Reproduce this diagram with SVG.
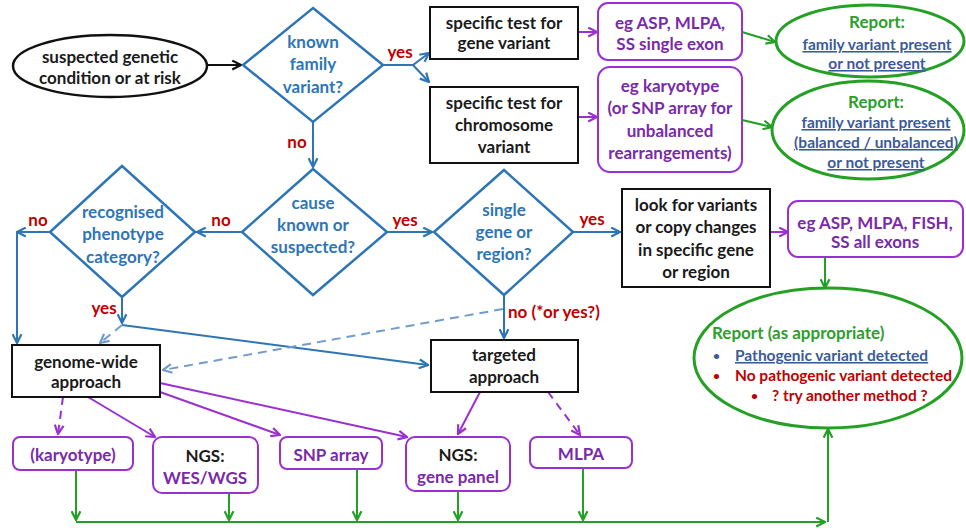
<svg xmlns="http://www.w3.org/2000/svg" width="966" height="530" viewBox="0 0 966 530">
<style>
text{font-family:Lato,"Liberation Sans",sans-serif;font-weight:bold;font-size:17px;text-anchor:middle}
.k{fill:#1a1a1a}.b{fill:#2e75b6}.r{fill:#c00000}.p{fill:#7a2aa8}.g{fill:#2e9e2e}.u{fill:#3b5a98;text-decoration:underline}
.s{font-size:15.5px}
.st{text-anchor:start}
.box{fill:#fff;stroke:#111;stroke-width:2}
.dia{fill:#fff;stroke:#2e75b6;stroke-width:2.5}
.pb{fill:#fff;stroke:#9b30d0;stroke-width:2}
.ge{fill:#fff;stroke:#24a024;stroke-width:3}
.cb{fill:none;stroke:#2e75b6;stroke-width:2}
.ck{fill:none;stroke:#111;stroke-width:2}
.cd{fill:none;stroke:#6f9ccc;stroke-width:2;stroke-dasharray:9 6}
.cp{fill:none;stroke:#9b30d0;stroke-width:2}
.cpd{fill:none;stroke:#9b30d0;stroke-width:2;stroke-dasharray:8 6}
.cg{fill:none;stroke:#24a024;stroke-width:2}
</style>
<defs>
<marker id="ak" viewBox="0 0 10 10" refX="9" refY="5" markerWidth="11" markerHeight="11" markerUnits="userSpaceOnUse" orient="auto"><path d="M1,1 L9,5 L1,9" fill="none" stroke="#111" stroke-width="2"/></marker>
<marker id="ab" viewBox="0 0 10 10" refX="9" refY="5" markerWidth="11" markerHeight="11" markerUnits="userSpaceOnUse" orient="auto"><path d="M1,1 L9,5 L1,9" fill="none" stroke="#2e75b6" stroke-width="2"/></marker>
<marker id="ad" viewBox="0 0 10 10" refX="9" refY="5" markerWidth="11" markerHeight="11" markerUnits="userSpaceOnUse" orient="auto"><path d="M1,1 L9,5 L1,9" fill="none" stroke="#6f9ccc" stroke-width="2"/></marker>
<marker id="ap" viewBox="0 0 10 10" refX="9" refY="5" markerWidth="11" markerHeight="11" markerUnits="userSpaceOnUse" orient="auto"><path d="M1,1 L9,5 L1,9" fill="none" stroke="#9b30d0" stroke-width="2"/></marker>
<marker id="ag" viewBox="0 0 10 10" refX="9" refY="5" markerWidth="11" markerHeight="11" markerUnits="userSpaceOnUse" orient="auto"><path d="M1,1 L9,5 L1,9" fill="none" stroke="#24a024" stroke-width="2"/></marker>
</defs>

<g id="connectors">
<path class="ck" d="M207,65 L241,65" marker-end="url(#ak)"/>
<path class="cb" d="M383,65 L413,65 L429,53" marker-end="url(#ab)"/>
<path class="cb" d="M413,65 L429,82" marker-end="url(#ab)"/>
<path class="cb" d="M313,122 L313,167" marker-end="url(#ab)"/>
<path class="cb" d="M242,232 L197,232" marker-end="url(#ab)"/>
<path class="cb" d="M50,232 L17,232" marker-end="url(#ab)"/>
<path class="cb" d="M17,232 L17,343" marker-end="url(#ab)"/>
<path class="cb" d="M122,297 L122,323" marker-end="url(#ab)"/>
<path class="cb" d="M122,325 L428,365" marker-end="url(#ab)"/>
<path class="cd" d="M122,325 L100,343" marker-end="url(#ad)"/>
<path class="cb" d="M387,232 L432,232" marker-end="url(#ab)"/>
<path class="cb" d="M573,232 L620,232" marker-end="url(#ab)"/>
<path class="cb" d="M504,295 L504,338" marker-end="url(#ab)"/>
<path class="cd" d="M503,309 L163,370" marker-end="url(#ad)"/>
<path class="cp" d="M578,32 L597,32" marker-end="url(#ap)"/>
<path class="cp" d="M578,117 L597,117" marker-end="url(#ap)"/>
<path class="cg" d="M742,32 L775,42" marker-end="url(#ag)"/>
<path class="cg" d="M742,120 L772,127" marker-end="url(#ag)"/>
<path class="cp" d="M770,232 L788,232" marker-end="url(#ap)"/>
<path class="cg" d="M825,257 L825,288" marker-end="url(#ag)"/>
<path class="cpd" d="M63,397 L58,434" marker-end="url(#ap)"/>
<path class="cp" d="M88,397 L155,437" marker-end="url(#ap)"/>
<path class="cp" d="M160,392 L280,435" marker-end="url(#ap)"/>
<path class="cp" d="M160,383 L407,437" marker-end="url(#ap)"/>
<path class="cp" d="M480,392 L458,434" marker-end="url(#ap)"/>
<path class="cpd" d="M548,392 L580,435" marker-end="url(#ap)"/>
<path class="cg" d="M76,470 L76,520" marker-end="url(#ag)"/>
<path class="cg" d="M229,493 L229,520" marker-end="url(#ag)"/>
<path class="cg" d="M357,469 L357,520" marker-end="url(#ag)"/>
<path class="cg" d="M458,491 L458,520" marker-end="url(#ag)"/>
<path class="cg" d="M583,468 L583,520" marker-end="url(#ag)"/>
<path class="cg" d="M76,522 L825,522" marker-end="url(#ag)"/>
<path class="cg" d="M828,522 L828,429" marker-end="url(#ag)"/>
</g>

<g id="labels">
<text class="r" x="400" y="58">yes</text>
<text class="r" x="297" y="148">no</text>
<text class="r" x="221" y="226">no</text>
<text class="r" x="38" y="226">no</text>
<text class="r" x="405" y="226">yes</text>
<text class="r" x="592" y="225">yes</text>
<text class="r" x="104" y="314">yes</text>
<text class="r st" x="508" y="318">no (*or yes?)</text>
</g>

<g id="start"><ellipse cx="110" cy="66" rx="97" ry="31" fill="#fff" stroke="#111" stroke-width="2.5"/>
<text class="k" x="110" y="63">suspected genetic</text><text class="k" x="110" y="84">condition or at risk</text></g>

<g id="known-family"><polygon class="dia" points="313,8 383,65 313,122 243,65"/>
<text class="b" x="313" y="48">known</text><text class="b" x="313" y="70">family</text><text class="b" x="313" y="93">variant?</text></g>

<g id="test-gene"><rect class="box" x="430" y="7" width="148" height="52"/>
<text class="k" x="504" y="29">specific test for</text><text class="k" x="504" y="49">gene variant</text></g>

<g id="test-chrom"><rect class="box" x="430" y="87" width="148" height="76"/>
<text class="k" x="504" y="109">specific test for</text><text class="k" x="504" y="131">chromosome</text><text class="k" x="504" y="153">variant</text></g>

<g id="eg-asp"><rect class="pb" x="598" y="3" width="144" height="57" rx="10"/>
<text class="p" x="670" y="29">eg ASP, MLPA,</text><text class="p" x="670" y="50">SS single exon</text></g>

<g id="eg-karyo"><rect class="pb" x="598" y="67" width="144" height="105" rx="12"/>
<text class="p" x="670" y="92">eg karyotype</text><text class="p" x="670" y="114">(or SNP array for</text><text class="p" x="670" y="137">unbalanced</text><text class="p" x="670" y="159">rearrangements)</text></g>

<g id="report1"><ellipse class="ge" cx="870" cy="41" rx="94" ry="36"/>
<text class="g" x="877" y="28">Report:</text><text class="u s" x="877" y="50">family variant present</text><text class="u s" x="877" y="69">or not present</text></g>

<g id="report2"><ellipse class="ge" cx="868" cy="130" rx="96" ry="49"/>
<text class="g" x="876" y="108">Report:</text><text class="u s" x="876" y="128">family variant present</text><text class="u s" x="876" y="148">(balanced / unbalanced)</text><text class="u s" x="876" y="168">or not present</text></g>

<g id="cause"><polygon class="dia" points="313,169 387,232 313,295 242,232"/>
<text class="b" x="313" y="209">cause</text><text class="b" x="313" y="231">known or</text><text class="b" x="313" y="253">suspected?</text></g>

<g id="phenotype"><polygon class="dia" points="122,166 195,232 122,297 50,232"/>
<text class="b" x="123" y="218">recognised</text><text class="b" x="123" y="240">phenotype</text><text class="b" x="123" y="263">category?</text></g>

<g id="single-gene"><polygon class="dia" points="504,170 573,232 504,295 434,232"/>
<text class="b" x="504" y="216">single</text><text class="b" x="504" y="238">gene or</text><text class="b" x="504" y="260">region?</text></g>

<g id="look-for"><rect class="box" x="622" y="189" width="148" height="98"/>
<text class="k" x="696" y="211">look for variants</text><text class="k" x="696" y="233">or copy  changes</text><text class="k" x="696" y="256">in specific gene</text><text class="k" x="696" y="278">or region</text></g>

<g id="eg-fish"><rect class="pb" x="788" y="201" width="175" height="56" rx="10"/>
<text class="p" x="875" y="229">eg ASP, MLPA, FISH,</text><text class="p" x="875" y="248">SS all exons</text></g>

<g id="report3"><ellipse class="ge" cx="828" cy="358" rx="134" ry="70"/>
<text class="g st" x="712" y="339">Report (as appropriate)</text>
<text class="s st" x="713" y="360" style="fill:#3b5a98;font-size:12px">•</text><text class="u s st" x="735" y="361">Pathogenic variant detected</text>
<text class="r st" x="713" y="380" style="font-size:12px">•</text><text class="r s st" x="735" y="381">No pathogenic variant detected</text>
<text class="r st" x="751" y="400" style="font-size:12px">•</text><text class="r s st" x="772" y="401">? try another method ?</text></g>

<g id="genome-wide"><rect class="box" x="12" y="345" width="148" height="52"/>
<text class="k" x="86" y="368">genome-wide</text><text class="k" x="86" y="388">approach</text></g>

<g id="targeted"><rect class="box" x="431" y="340" width="147" height="52"/>
<text class="k" x="504" y="361">targeted</text><text class="k" x="504" y="383">approach</text></g>

<g id="karyotype"><rect class="pb" x="13" y="437" width="120" height="33" rx="7"/>
<text class="p" x="73" y="461">(karyotype)</text></g>

<g id="wes"><rect class="pb" x="153" y="437" width="105" height="56" rx="9"/>
<text class="k" x="205" y="462">NGS:</text><text class="p" x="205" y="484">WES/WGS</text></g>

<g id="snp"><rect class="pb" x="280" y="437" width="102" height="32" rx="7"/>
<text class="p" x="331" y="461">SNP array</text></g>

<g id="gene-panel"><rect class="pb" x="406" y="437" width="104" height="54" rx="9"/>
<text class="k" x="458" y="461">NGS:</text><text class="p" x="458" y="483">gene panel</text></g>

<g id="mlpa"><rect class="pb" x="530" y="437" width="102" height="31" rx="7"/>
<text class="p" x="581" y="460">MLPA</text></g>
</svg>
